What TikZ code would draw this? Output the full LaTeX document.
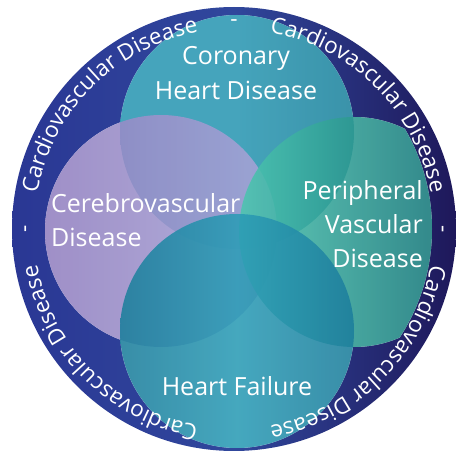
\documentclass[tikz,border=0pt]{standalone}
\usepackage{fontspec}
\setmainfont{Open Sans}
\usetikzlibrary{decorations.text, fadings, positioning}

\definecolor{ringleft}{HTML}{2A3794}
\definecolor{ringmid}{HTML}{30479C}
\definecolor{ringright}{HTML}{1E185A}
\definecolor{chdteal}{HTML}{2C98B3}
\definecolor{chddark}{HTML}{1F849E}
\definecolor{cbvpurple}{HTML}{9280C0}
\definecolor{cbvlight}{HTML}{A8A6D8}
\definecolor{pvdgreen}{HTML}{4CC6B0}
\definecolor{pvddark}{HTML}{0D6B72}
\definecolor{hfteal}{HTML}{2C9CB6}
\definecolor{hfdark}{HTML}{1D7E9C}

\tikzfading[name=glossband, left color=transparent!100, middle color=transparent!50, right color=transparent!100]

\begin{document}
\begin{tikzpicture}[x=1pt, y=1pt,
    innertext/.style={text=white, inner sep=0pt, font=\fontsize{25}{34}\selectfont},
    ringtext/.style={decorate, decoration={text along path, text align=center,
        text color=white, text={|\fontsize{22.5}{26}\selectfont|#1}}},
    blob/.style={fill opacity=0.88}]

    \useasboundingbox (0, 0) rectangle (456, 456);
    \coordinate (ctr) at (234, 227);

    % dark outer disk
    \shade[left color=ringleft, right color=ringright, middle color=ringmid] (ctr) circle[radius=222pt];

    \begin{scope}
        \clip (ctr) circle[radius=222pt];
        % white under the four circles
        \fill[white] (237, 324) circle[radius=117pt];
        \fill[white] (161, 225) circle[radius=116pt];
        \fill[white] (237, 125) circle[radius=117pt];
        \begin{scope}
            \clip (ctr) circle[radius=198pt];
            \fill[white] (354, 224) circle[radius=115pt];
        \end{scope}

        \shade[left color=chdteal, right color=chddark, middle color=chdteal, blob] (237, 324) circle[radius=117pt];
        \shade[left color=cbvpurple, right color=cbvlight, blob] (161, 225) circle[radius=116pt];
        \begin{scope}
            \clip (ctr) circle[radius=198pt];
            \shade[left color=pvdgreen, right color=pvddark, blob] (354, 224) circle[radius=115pt];
        \end{scope}
        \shade[left color=hfdark, right color=hfdark, middle color=hfteal, blob] (237, 125) circle[radius=117pt];

        % glossy vertical band
        \fill[white, path fading=glossband, fit fading=true] (190, 0) rectangle (280, 456);
    \end{scope}

    % text round the ring
    \foreach \a in {0, 90, 180, 270} {
        \path[ringtext={Cardiovascular Disease}] ([shift={(\a+90:200pt)}]ctr)
            arc[start angle=\a+90, end angle=\a, radius=200pt];
    }
    \foreach \a in {0, 90, 180} {
        \node[text=white, font=\fontsize{22.5}{26}\selectfont, rotate=\a-90] (dash\a)
            at ([shift={(\a:206pt)}]ctr) {-};
    }

    \node[innertext, align=center, font=\fontsize{25}{35}\selectfont] (chd) at (236, 383) {Coronary\\Heart Disease};
    \node[innertext, align=left, anchor=west] (cbv) at (51, 236) {Cerebrovascular\\Disease};
    \node[innertext, align=right, anchor=east] (pvd) at (423, 232) {Peripheral\\Vascular\\Disease};
    \node[innertext, anchor=base] (hf) at (237, 60) {Heart Failure};

\end{tikzpicture}
\end{document}
